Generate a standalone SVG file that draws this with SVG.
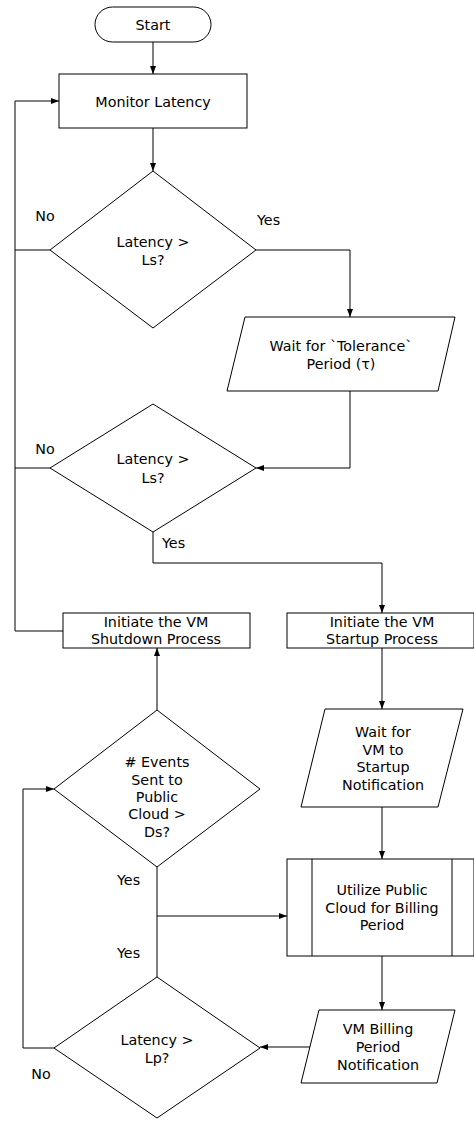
<svg xmlns="http://www.w3.org/2000/svg" width="474" height="1121" viewBox="0 0 474 1121">
<style>
.s{fill:#fff;stroke:#000;stroke-width:1}
.c{fill:none;stroke:#000;stroke-width:1}
text{font-family:"DejaVu Sans","Verdana",sans-serif;font-size:14.3px;fill:#000;text-anchor:middle}
.l{text-anchor:start}
</style>
<defs>
<marker id="a" viewBox="0 0 8 6" refX="8" refY="3" markerWidth="8" markerHeight="6" markerUnits="userSpaceOnUse" orient="auto">
<path d="M0,0 L8,3 L0,6 z" fill="#000"/>
</marker>
</defs>
<rect width="474" height="1121" fill="#fff"/>
<g id="connectors">
<path class="c" d="M153,42 V74" marker-end="url(#a)"/>
<path class="c" d="M153,128 V171" marker-end="url(#a)"/>
<path class="c" d="M256,250 H350 V317" marker-end="url(#a)"/>
<path class="c" d="M50,250 H15"/>
<path class="c" d="M63,631 H15 V101 H59" marker-end="url(#a)"/>
<path class="c" d="M50,468 H15"/>
<path class="c" d="M350,391 V468 H256" marker-end="url(#a)"/>
<path class="c" d="M153,532 V563 H382 V613" marker-end="url(#a)"/>
<path class="c" d="M157,710 V648" marker-end="url(#a)"/>
<path class="c" d="M382,648 V709" marker-end="url(#a)"/>
<path class="c" d="M382,807 V859" marker-end="url(#a)"/>
<path class="c" d="M157,867 V977"/>
<path class="c" d="M157,916 H287" marker-end="url(#a)"/>
<path class="c" d="M382,956 V1010" marker-end="url(#a)"/>
<path class="c" d="M310,1047 H260" marker-end="url(#a)"/>
<path class="c" d="M54,1048 H23 V789 H54" marker-end="url(#a)"/>
<text x="45" y="221">No</text>
<text class="l" x="257" y="225">Yes</text>
<text x="45" y="454">No</text>
<text class="l" x="162" y="548">Yes</text>
<text class="l" x="117" y="885">Yes</text>
<text class="l" x="117" y="958">Yes</text>
<text x="41" y="1079">No</text>
</g>
<g id="start">
<rect class="s" x="95" y="7" width="116" height="35" rx="17.5"/>
<text x="153" y="30">Start</text>
</g>
<g id="monitor">
<rect class="s" x="59" y="74" width="188" height="54"/>
<text x="153" y="107">Monitor Latency</text>
</g>
<g id="decision1">
<polygon class="s" points="153,171 256,250 153,328 50,250"/>
<text x="153" y="247">Latency &gt;</text>
<text x="153" y="265">Ls?</text>
</g>
<g id="wait-tolerance">
<polygon class="s" points="245,317 455,317 438,391 227,391"/>
<text x="341" y="351">Wait for `Tolerance`</text>
<text x="341" y="369">Period (τ)</text>
</g>
<g id="decision2">
<polygon class="s" points="153,404 256,468 153,532 50,468"/>
<text x="153" y="464">Latency &gt;</text>
<text x="153" y="483">Ls?</text>
</g>
<g id="shutdown">
<rect class="s" x="63" y="613" width="187" height="35"/>
<text x="156" y="627">Initiate the VM</text>
<text x="156" y="644">Shutdown Process</text>
</g>
<g id="startup">
<rect class="s" x="287" y="613" width="187" height="35"/>
<text x="382" y="627">Initiate the VM</text>
<text x="382" y="644">Startup Process</text>
</g>
<g id="wait-vm">
<polygon class="s" points="325,709 463,709 438,807 301,807"/>
<text x="383" y="737">Wait for</text>
<text x="383" y="755">VM to</text>
<text x="383" y="772">Startup</text>
<text x="383" y="790">Notification</text>
</g>
<g id="decision3">
<polygon class="s" points="157,710 260,789 157,867 54,789"/>
<text x="157" y="767"># Events</text>
<text x="157" y="785">Sent to</text>
<text x="157" y="802">Public</text>
<text x="157" y="819">Cloud &gt;</text>
<text x="157" y="837">Ds?</text>
</g>
<g id="utilize">
<rect class="s" x="287" y="859" width="187" height="97"/>
<path class="c" d="M312,859 V956 M452,859 V956"/>
<text x="382" y="895">Utilize Public</text>
<text x="382" y="913">Cloud for Billing</text>
<text x="382" y="930">Period</text>
</g>
<g id="billing">
<polygon class="s" points="319,1010 455,1010 437,1083 301,1083"/>
<text x="378" y="1034">VM Billing</text>
<text x="378" y="1052">Period</text>
<text x="378" y="1070">Notification</text>
</g>
<g id="decision4">
<polygon class="s" points="157,977 260,1048 157,1118 54,1048"/>
<text x="157" y="1045">Latency &gt;</text>
<text x="157" y="1063">Lp?</text>
</g>
</svg>
